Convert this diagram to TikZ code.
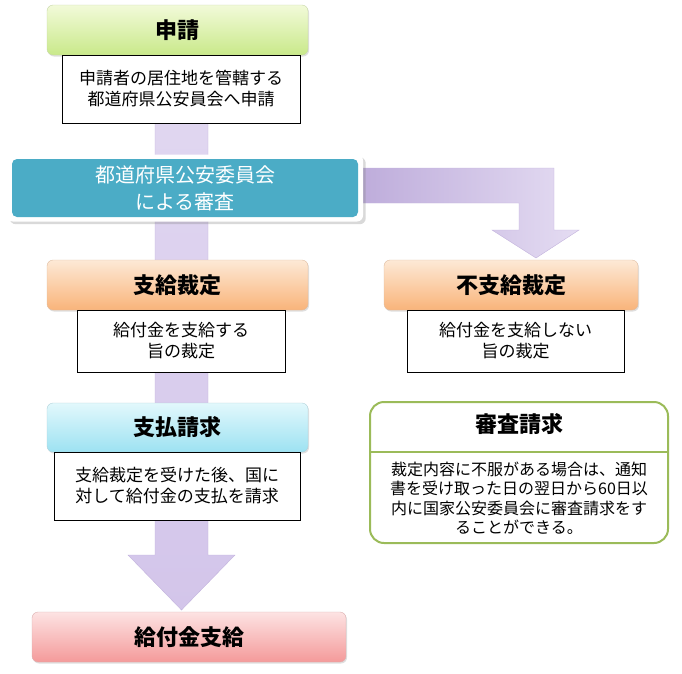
\documentclass[tikz,border=0pt]{standalone}
\usepackage{fontspec}
\setmainfont{Noto Sans CJK JP}
\usetikzlibrary{shadows}
\definecolor{arw}{HTML}{D3C5EA}
\definecolor{arwd}{HTML}{A992CF}
\definecolor{gT}{HTML}{F2FAD9}\definecolor{gB}{HTML}{C9E98A}
\definecolor{oT}{HTML}{FDE9D6}\definecolor{oB}{HTML}{F9B47A}
\definecolor{cT}{HTML}{E2F8FC}\definecolor{cB}{HTML}{9DE2F2}
\definecolor{rT}{HTML}{FDE3E3}\definecolor{rB}{HTML}{F49A9A}
\definecolor{teal2}{HTML}{4BACC6}
\definecolor{grn}{HTML}{9BBB59}
\begin{document}
\begin{tikzpicture}[x=1pt,y=-1pt,
 title/.style 2 args={rounded corners=6pt,draw=#2!80!black!60,top color=#1,bottom color=#2,font=\bfseries\fontsize{22}{26}\selectfont,drop shadow={opacity=0.25,shadow xshift=1pt,shadow yshift=-1.5pt}},
 desc/.style={draw=black,fill=white,line width=0.6pt,font=\fontsize{17}{21}\selectfont,align=center,inner sep=0pt},
 band/.style={draw=arwd!70,line width=0.4pt}]
\useasboundingbox (0,0) rectangle (682,673);
% arrows
\path[band,top color=arw!70,bottom color=arw] (155,123) -- (208,123) -- (208,555) -- (235,555) -- (181.5,610) -- (128,555) -- (155,555) -- cycle;
\path[band,left color=arwd!80,right color=arw!60] (340,168) -- (554,168) -- (554,230) -- (579,230) -- (536,258) -- (492,230) -- (519,230) -- (519,203) -- (340,203) -- cycle;
% boxes
\node[title={gT}{gB},minimum width=261pt,minimum height=50pt] (a) at (177.5,30) {申請};
\node[desc,minimum width=238pt,minimum height=68pt] (a2) at (181,89) {申請者の居住地を管轄する\\都道府県公安員会へ申請};
\node[rounded corners=6pt,fill=white,minimum width=356pt,minimum height=67pt,drop shadow={opacity=0.3}] (bw) at (185,188) {};
\node[rounded corners=5pt,fill=teal2,minimum width=346pt,minimum height=58pt,inner sep=0pt,text=white,font=\fontsize{20}{27}\selectfont,align=center] (b) at (185,188) {都道府県公安委員会\\による審査};
\node[title={oT}{oB},minimum width=261pt,minimum height=50pt] (c) at (177.5,285) {支給裁定};
\node[desc,minimum width=208pt,minimum height=62pt] (c2) at (181,341) {給付金を支給する\\旨の裁定};
\node[title={oT}{oB},minimum width=254pt,minimum height=50pt] (d) at (511,285) {不支給裁定};
\node[desc,minimum width=217pt,minimum height=62pt] (d2) at (515.5,341) {給付金を支給しない\\旨の裁定};
\node[title={cT}{cB},minimum width=261pt,minimum height=49pt] (e) at (177.5,427.5) {支払請求};
\node[desc,minimum width=246pt,minimum height=68pt] (e2) at (177,486) {支給裁定を受けた後、国に\\対して給付金の支払を請求};
\node[title={rT}{rB},minimum width=314pt,minimum height=50pt] (f) at (189,637) {給付金支給};
% review box
\draw[rounded corners=14pt,draw=grn,line width=2pt,fill=white] (370,402) rectangle (668,543);
\draw[draw=grn,line width=2pt] (371,452) -- (667,452);
\node[font=\bfseries\fontsize{22}{26}\selectfont] (g) at (519,424) {審査請求};
\node[font=\fontsize{16}{19.5}\selectfont,align=center,inner sep=0pt] (g2) at (519,498) {裁定内容に不服がある場合は、通知\\書を受け取った日の翌日から60日以\\内に国家公安委員会に審査請求をす\\ることができる。};
\end{tikzpicture}
\end{document}
